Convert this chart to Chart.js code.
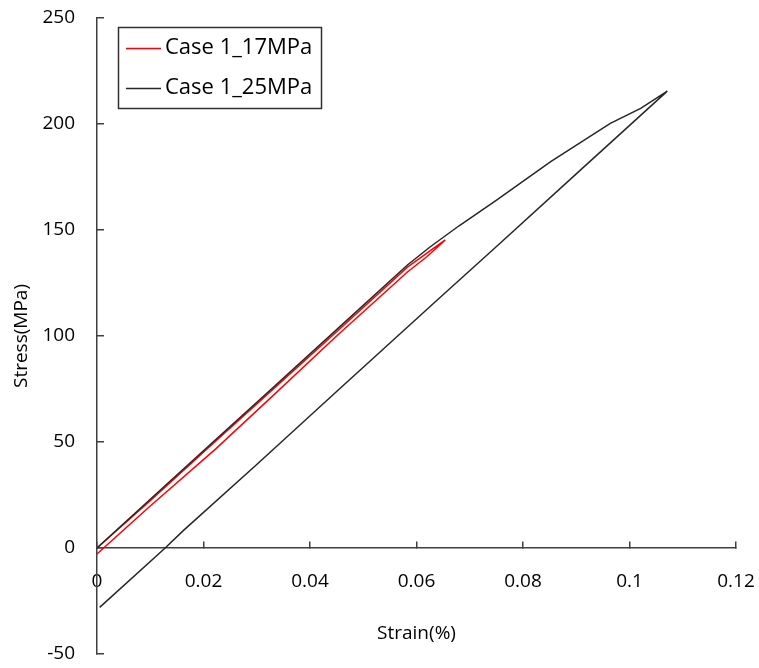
<!DOCTYPE html>
<html>
<head>
<meta charset="utf-8">
<script src="https://cdn.jsdelivr.net/npm/chart.js@4/dist/chart.umd.min.js"></script>
<style>
  html, body { margin: 0; padding: 0; background: #ffffff; }
  #wrap { width: 759px; height: 668px; position: relative; }
</style>
</head>
<body>
<div id="wrap"><canvas id="c" width="759" height="668"></canvas></div>
<script>
// ---- Data ----
const seriesLabels = ['Case 1_17MPa', 'Case 1_25MPa'];
const seriesColors = ['#ff0000', '#262626'];

// Case 1_17MPa : loading then unloading (strain %, stress MPa)
const case17Strain = [0, 0.010, 0.022, 0.031, 0.045, 0.0583, 0.0654, 0.0620, 0.0583, 0.045, 0.0325, 0.0222, 0.010, 0];
const case17Stress = [0, 22.3, 49.8, 70.2, 102.0, 132.5, 145.3, 137.5, 130.2, 100.0, 70.6, 46.5, 19.8, -2.8];

// Case 1_25MPa : loading then unloading
const case25Strain = [0, 0.010, 0.022, 0.031, 0.045, 0.0583, 0.0626, 0.068, 0.0751, 0.0852, 0.0964, 0.1021, 0.1071, 0.090, 0.0758, 0.0639, 0.045, 0.030, 0.0162, 0.0128, 0.0005];
const case25Stress = [0, 23.0, 50.5, 71.0, 103.0, 133.5, 142.1, 152.0, 164.2, 182.2, 200.3, 207.4, 215.5, 176.5, 144.0, 117.0, 73.8, 39.4, 8.2, 0, -28.0];

const xTickValues = [0, 0.02, 0.04, 0.06, 0.08, 0.1, 0.12];
const yTickValues = [-50, 0, 50, 100, 150, 200, 250];
const xTitle = 'Strain(%)';
const yTitle = 'Stress(MPa)';

// ---- Build ----
const toPoints = (xs, ys) => xs.map((x, i) => ({ x: x, y: ys[i] }));
const AXIS = '#3f3f3f';
const FONT = "'Open Sans', 'DejaVu Sans', sans-serif";

const boxedLegend = {
  id: 'boxedLegend',
  afterDraw(chart) {
    const ctx = chart.ctx;
    ctx.save();
    ctx.strokeStyle = '#303030';
    ctx.lineWidth = 1.5;
    ctx.strokeRect(118.5, 27.5, 203, 81);
    ctx.font = '22px ' + FONT;
    ctx.textBaseline = 'middle';
    ctx.fillStyle = '#000';
    const rows = [48, 88];
    chart.data.datasets.forEach((ds, i) => {
      ctx.strokeStyle = ds.borderColor;
      ctx.lineWidth = 1.5;
      ctx.beginPath();
      ctx.moveTo(126, rows[i] + 0.5);
      ctx.lineTo(161, rows[i] + 0.5);
      ctx.stroke();
      ctx.fillText(ds.label, 165, rows[i]);
    });
    ctx.restore();
  }
};

new Chart(document.getElementById('c'), {
  type: 'scatter',
  data: {
    datasets: [
      { label: seriesLabels[0], data: toPoints(case17Strain, case17Stress), showLine: true,
        borderColor: seriesColors[0], backgroundColor: seriesColors[0], borderWidth: 1.5,
        pointRadius: 0, tension: 0, order: 1 },
      { label: seriesLabels[1], data: toPoints(case25Strain, case25Stress), showLine: true,
        borderColor: seriesColors[1], backgroundColor: seriesColors[1], borderWidth: 1.5,
        pointRadius: 0, tension: 0, order: 0 }
    ]
  },
  options: {
    responsive: false,
    animation: false,
    layout: { padding: { left: 0, top: 18, right: 23, bottom: 14 } },
    plugins: { legend: { display: false }, tooltip: { enabled: false } },
    scales: {
      x: {
        type: 'linear', min: 0, max: 0.12, position: { y: 0 },
        afterBuildTicks: (s) => { s.ticks = xTickValues.map(v => ({ value: v })); },
        afterFit: (s) => { s.paddingLeft = 0; s.paddingRight = 0; },
        ticks: { color: '#000', font: { family: FONT, size: 19 }, padding: 29,
                 maxRotation: 0, autoSkip: false,
                 callback: (v) => String(Number(v.toFixed(2))) },
        grid: { drawOnChartArea: false, drawTicks: true, tickLength: -7, color: AXIS, lineWidth: 1.5 },
        border: { display: true, color: AXIS, width: 1.5 },
        title: { display: true, text: xTitle, color: '#000', font: { family: FONT, size: 19 },
                 padding: { top: 0, bottom: 0 } }
      },
      y: {
        type: 'linear', min: -50, max: 250, position: 'left',
        afterBuildTicks: (s) => { s.ticks = yTickValues.map(v => ({ value: v })); },
        afterFit: (s) => { s.width = 97; s.paddingTop = 0; s.paddingBottom = 0; },
        ticks: { color: '#000', font: { family: FONT, size: 19 }, padding: 29 },
        grid: { drawOnChartArea: false, drawTicks: true, tickLength: -7, color: AXIS, lineWidth: 1.5 },
        border: { display: true, color: AXIS, width: 1.5 },
        title: { display: true, text: yTitle, color: '#000', font: { family: FONT, size: 19 },
                 padding: { top: 10, bottom: 0 } }
      }
    }
  },
  plugins: [boxedLegend]
});
</script>
</body>
</html>
